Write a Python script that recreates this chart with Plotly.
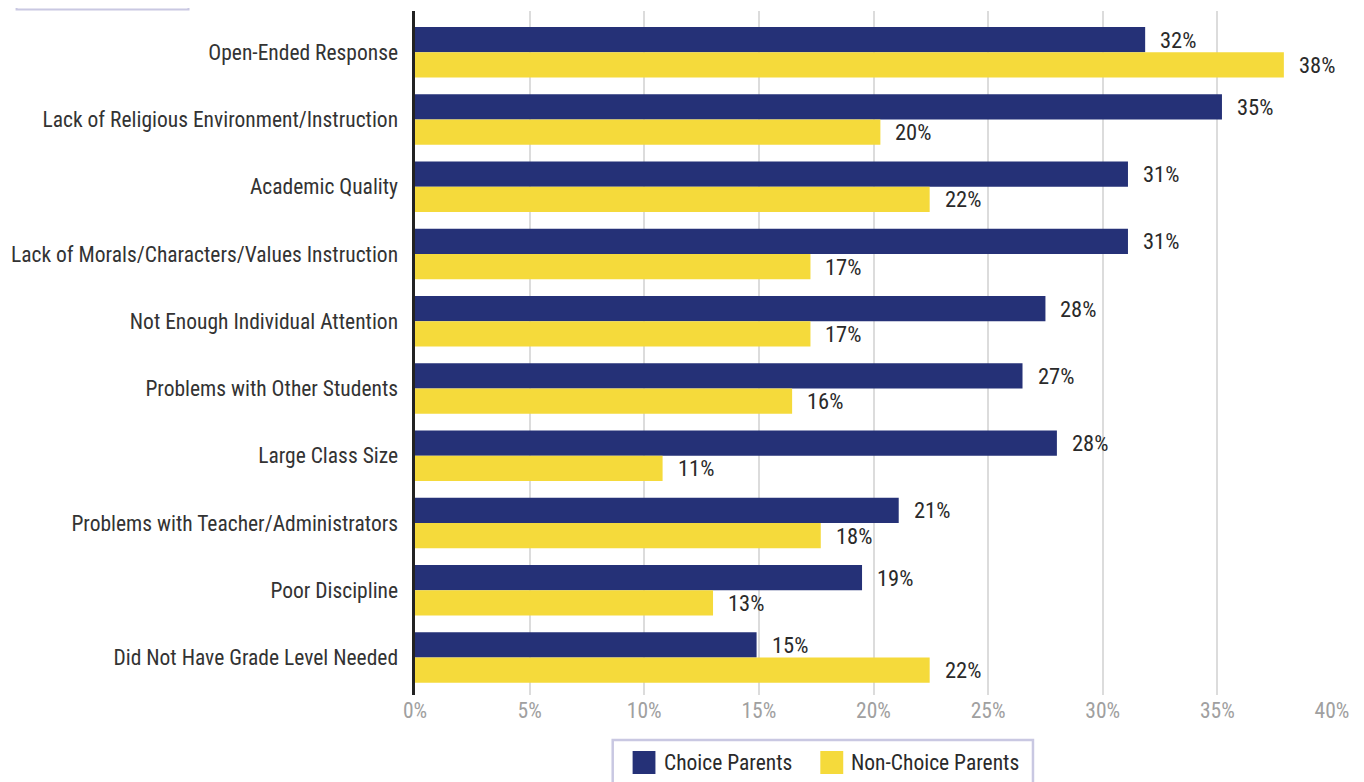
import plotly.graph_objects as go

categories = [
    "Open-Ended Response",
    "Lack of Religious Environment/Instruction",
    "Academic Quality",
    "Lack of Morals/Characters/Values Instruction",
    "Not Enough Individual Attention",
    "Problems with Other Students",
    "Large Class Size",
    "Problems with Teacher/Administrators",
    "Poor Discipline",
    "Did Not Have Grade Level Needed",
]
choice_values = [31.85, 35.2, 31.1, 31.1, 27.5, 26.5, 28.0, 21.1, 19.5, 14.9]
choice_labels = ["32%", "35%", "31%", "31%", "28%", "27%", "28%", "21%", "19%", "15%"]
nonchoice_values = [37.9, 20.3, 22.45, 17.25, 17.25, 16.45, 10.8, 17.7, 13.0, 22.45]
nonchoice_labels = ["38%", "20%", "22%", "17%", "17%", "16%", "11%", "18%", "13%", "22%"]
x_ticks = [0, 5, 10, 15, 20, 25, 30, 35, 40]
series_names = ["Choice Parents", "Non-Choice Parents"]

NAVY = "#253177"
YELLOW = "#f5da3b"
BORDER = "#c9c8e2"
FONT = "Liberation Sans Narrow, Roboto Condensed, Arial Narrow, sans-serif"
FS = 21.5

fig = go.Figure()
fig.add_trace(go.Bar(name=series_names[0], y=categories, x=choice_values, showlegend=False,
                     orientation="h", marker=dict(color=NAVY, line=dict(width=0))))
fig.add_trace(go.Bar(name=series_names[1], y=categories, x=nonchoice_values, showlegend=False,
                     orientation="h", marker=dict(color=YELLOW, line=dict(width=0))))

annotations = []
for cat, v, lab in zip(categories, choice_values, choice_labels):
    annotations.append(dict(x=v, y=cat, text=lab, showarrow=False, xanchor="left",
                            xshift=13, yshift=12.6, font=dict(size=22.5, color="#2a2a2a", family=FONT)))
for cat, v, lab in zip(categories, nonchoice_values, nonchoice_labels):
    annotations.append(dict(x=v, y=cat, text=lab, showarrow=False, xanchor="left",
                            xshift=13, yshift=-12.6, font=dict(size=22.5, color="#2a2a2a", family=FONT)))

# manual legend (page is offset by the default 8px body margin)
annotations.append(dict(xref="paper", yref="paper", x=0.2698, y=-0.098, text=series_names[0],
                        showarrow=False, xanchor="left", yanchor="middle",
                        font=dict(size=FS, color="#2a2a2a", family=FONT)))
annotations.append(dict(xref="paper", yref="paper", x=0.4735, y=-0.098, text=series_names[1],
                        showarrow=False, xanchor="left", yanchor="middle",
                        font=dict(size=FS, color="#2a2a2a", family=FONT)))

shapes = [
    dict(type="rect", xref="paper", yref="paper", x0=-0.4345, x1=-0.247,
         y0=1.0022, y1=1.05, line=dict(color=BORDER, width=2)),
    dict(type="rect", xref="paper", yref="paper", x0=0.2156, x1=0.6739,
         y0=-0.1535, y1=-0.0658, line=dict(color=BORDER, width=2.5), fillcolor="white"),
    dict(type="rect", xref="paper", yref="paper", x0=0.2373, x1=0.2622,
         y0=-0.1155, y1=-0.0819, line=dict(width=0), fillcolor=NAVY),
    dict(type="rect", xref="paper", yref="paper", x0=0.4420, x1=0.4670,
         y0=-0.1155, y1=-0.0819, line=dict(width=0), fillcolor=YELLOW),
]

fig.update_layout(
    width=1364, height=782,
    margin=dict(l=401, r=40, t=3, b=95),
    paper_bgcolor="white", plot_bgcolor="white",
    barmode="group", bargap=0.248, bargroupgap=0,
    font=dict(family=FONT, size=FS, color="#333333"),
    annotations=annotations,
    shapes=shapes,
    showlegend=False,
)
fig.update_xaxes(range=[0, 40], tickvals=x_ticks, ticktext=[f"{t}%" for t in x_ticks],
                 showgrid=True, gridcolor="#dcdcdc", gridwidth=2, zeroline=False,
                 showline=False, ticks="", tickfont=dict(size=FS, color="#a0a0a0", family=FONT))
fig.update_yaxes(categoryorder="array", categoryarray=categories, autorange=False,
                 range=[9.557, -0.614], showline=True, linecolor="#222222", linewidth=2.5,
                 ticks="", ticksuffix="  ", showgrid=False,
                 tickfont=dict(size=FS, color="#333333", family=FONT))

fig.write_html("out.html")
